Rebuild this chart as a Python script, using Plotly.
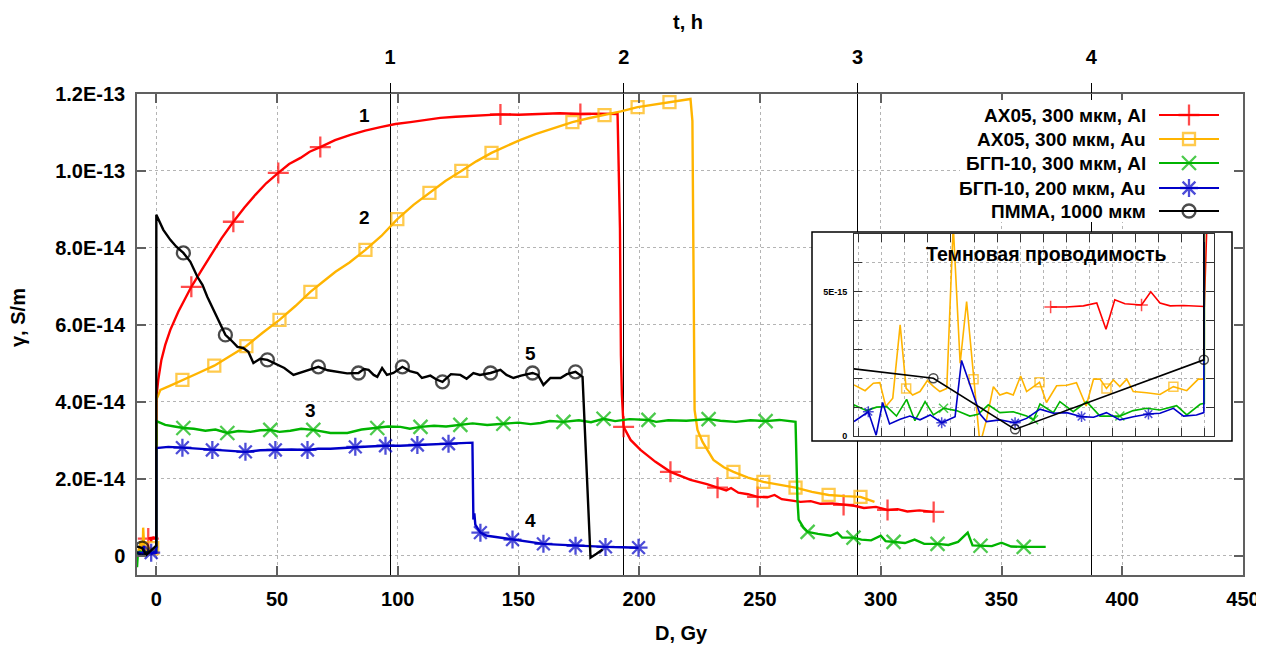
import numpy as np
import plotly.graph_objects as go

# ---------------- data ----------------
# D = absorbed dose, Gy (negative values: dark period before irradiation)
# conductivity: dark part in units of 1E-15 S/m, irradiation part in 1E-14 S/m

# 1: АХ05, 300 мкм, Al
red_dark_D = [-3.34, -3.0, -2.63, -2.34, -2.14, -1.95, -1.73, -1.37, -1.17, -0.97, -0.75, -0.46, -0.01]
red_dark_g15 = [4.47, 4.47, 4.51, 4.61, 3.70, 4.72, 4.58, 4.54, 5.00, 4.61, 4.51, 4.52, 4.49]
red_D = [0, 0.8, 2.1, 3.7, 5.8, 9.1, 14.5, 18.5, 22.4, 27.0, 31.9, 36.5, 41.0, 45.5, 50.5, 55.0,
         59.7, 63.5, 67.9, 74.0, 80.4, 86.5, 92.8, 99.0, 105.2, 111.0, 117.6, 124.0, 130.1, 136.0,
         142.5, 150.0, 159.1, 167.0, 175.6, 183.0, 191.0, 192.0, 192.4, 192.8, 193.5, 196.4, 200.5,
         206.7, 212.9, 221.2, 228.0, 232.4, 236.0, 238.0, 241.0, 245.0, 249.0, 253.0, 256.0, 259.0,
         263.0, 266.8, 271.0, 275.0, 280.0, 284.6, 289.0, 293.0, 298.0, 302.8, 307.0, 311.0, 316.0, 321.9]
red_g14 = [4.10, 4.57, 5.09, 5.48, 5.87, 6.34, 6.99, 7.40, 7.79, 8.25, 8.68, 9.05, 9.38, 9.68, 9.95, 10.18,
           10.34, 10.50, 10.62, 10.80, 10.94, 11.05, 11.14, 11.22, 11.27, 11.33, 11.38, 11.41, 11.43, 11.46,
           11.47, 11.46, 11.48, 11.50, 11.48, 11.49, 11.48, 8.50, 5.20, 4.18, 3.35, 3.01, 2.75,
           2.44, 2.18, 1.97, 1.86, 1.77, 1.70, 1.76, 1.64, 1.60, 1.53, 1.52, 1.58, 1.47,
           1.44, 1.40, 1.42, 1.35, 1.36, 1.32, 1.30, 1.24, 1.27, 1.19, 1.21, 1.15, 1.18, 1.14]

# 2: АХ05, 300 мкм, Au
orange_dark_D = [-7.6, -7.36, -7.18, -7.04, -6.91, -6.76, -6.60, -6.47, -6.33, -6.17, -6.01, -5.88, -5.74,
                 -5.59, -5.45, -5.30, -5.16, -5.01, -4.87, -4.73, -4.58, -4.44, -4.29, -4.15, -3.99, -3.86,
                 -3.71, -3.58, -3.43, -3.21, -2.99, -2.78, -2.57, -2.41, -2.27, -2.13, -1.98, -1.84, -1.69,
                 -1.55, -1.26, -0.97, -0.68, -0.39, -0.14, -0.01]
orange_dark_g15 = [1.77, 1.57, 1.83, 1.85, 1.02, 1.31, 3.85, 1.65, 1.42, 1.54, 1.92, 1.72, 1.54,
                   1.65, 7.30, 2.52, 4.66, 1.97, -0.30, 0.56, 1.71, 1.42, 1.50, 1.42, 2.08, 1.54,
                   1.71, 1.86, 1.16, 1.74, 1.76, 1.85, 1.04, 1.97, 1.97, 1.65, 1.94, 1.71, 1.97,
                   1.54, 1.50, 1.44, 1.71, 1.57, 1.97, 1.97]
orange_D = [0, 1.7, 5.8, 10.8, 17.4, 24.0, 30.7, 37.3, 43.9, 51.0, 57.6, 63.8, 69.0, 74.2, 80.0, 86.6,
            93.2, 99.8, 106.5, 113.1, 119.7, 126.3, 132.5, 138.8, 144.8, 150.8, 157.0, 163.2, 168.0,
            172.3, 179.0, 185.6, 192.4, 199.3, 206.0, 212.5, 217.0, 221.2, 222.0, 222.5, 222.9, 224.1,
            226.2, 230.7, 235.0, 239.0, 245.0, 251.4, 258.0, 264.7, 271.5, 278.4, 285.0, 291.6, 297.4]
orange_g14 = [4.05, 4.31, 4.42, 4.57, 4.75, 4.94, 5.19, 5.45, 5.79, 6.13, 6.49, 6.86, 7.12, 7.38, 7.62, 7.95,
              8.31, 8.75, 9.12, 9.43, 9.74, 10.00, 10.25, 10.47, 10.65, 10.81, 10.96, 11.09, 11.18,
              11.27, 11.37, 11.45, 11.55, 11.66, 11.72, 11.79, 11.83, 11.87, 11.30, 6.65, 3.79, 3.27,
              2.96, 2.49, 2.30, 2.18, 2.03, 1.92, 1.84, 1.77, 1.66, 1.58, 1.55, 1.53, 1.40]

# 3: БГП-10, 300 мкм, Al
green_dark_D = [-8.0, -7.6, -7.33, -7.11, -6.89, -6.68, -6.46, -6.28, -6.06, -5.88, -5.66, -5.38, -5.09,
                -4.91, -4.69, -4.44, -4.15, -3.86, -3.71, -3.57, -3.28, -3.14, -2.85, -2.56, -2.27,
                -1.84, -1.55, -1.26, -0.97, -0.61, -0.39, -0.10, -0.01]
green_dark_g15 = [-3.0, 1.08, 0.88, 1.00, 1.02, 0.69, 1.27, 0.53, 1.19, 0.73, 0.96, 0.88, 0.69,
                  0.75, 1.08, 0.81, 0.84, 0.69, 0.56, 1.11, 0.81, 1.19, 0.84, 1.19, 0.69,
                  0.69, 0.88, 0.96, 0.90, 1.05, 0.73, 1.10, 1.13]
green_D = [0, 3.7, 7.5, 11.2, 15.5, 20.3, 24.5, 29.4, 34.0, 38.9, 43.0, 47.2, 51.0, 55.5, 60.0, 65.0,
           72.1, 79.1, 85.0, 91.5, 96.0, 101.1, 105.0, 109.4, 115.0, 120.0, 125.9, 131.0, 137.0, 143.7,
           150.0, 155.0, 159.1, 163.0, 168.6, 175.0, 180.0, 185.2, 190.0, 196.0, 203.8, 207.0, 212.0,
           219.5, 228.7, 233.6, 240.0, 246.0, 252.3, 258.0, 264.7, 265.5, 266.0, 268.0, 269.7, 274.0,
           279.2, 282.0, 284.0, 288.7, 292.0, 296.0, 300.0, 302.0, 305.3, 310.0, 314.0, 318.0, 323.5,
           328.0, 332.0, 336.0, 338.0, 341.3, 346.0, 350.0, 354.0, 359.2, 364.0, 368.3]
green_g14 = [3.50, 3.40, 3.36, 3.32, 3.30, 3.25, 3.28, 3.19, 3.24, 3.22, 3.26, 3.27, 3.22, 3.25, 3.30, 3.27,
             3.19, 3.19, 3.28, 3.32, 3.36, 3.35, 3.30, 3.35, 3.38, 3.36, 3.40, 3.44, 3.40, 3.43,
             3.46, 3.42, 3.45, 3.50, 3.48, 3.52, 3.47, 3.56, 3.50, 3.55, 3.53, 3.48, 3.52,
             3.51, 3.55, 3.51, 3.48, 3.52, 3.50, 3.53, 3.48, 1.45, 0.94, 0.73, 0.62, 0.57,
             0.52, 0.60, 0.47, 0.47, 0.42, 0.40, 0.52, 0.38, 0.36, 0.33, 0.42, 0.31, 0.31,
             0.28, 0.36, 0.60, 0.27, 0.26, 0.25, 0.34, 0.24, 0.23, 0.22, 0.23]

# 4: БГП-10, 200 мкм, Au
blue_dark_D = [-7.6, -7.29, -7.12, -6.98, -6.83, -6.60, -6.39, -6.17, -5.95, -5.70, -5.41, -5.27, -5.05,
               -4.87, -4.73, -4.44, -4.11, -3.86, -3.57, -3.28, -2.99, -2.67, -2.41, -2.13, -1.84,
               -1.55, -1.22, -0.97, -0.68, -0.46, -0.18, -0.02]
blue_dark_g15 = [0.50, 0.84, 0.03, 1.16, 0.42, 0.58, 0.69, 0.56, 0.73, 0.46, 0.67, 2.62, 1.60,
                 0.76, 0.50, 0.56, 0.46, 0.61, 0.93, 0.79, 0.81, 0.67, 0.65, 0.81, 0.56,
                 0.67, 0.76, 0.79, 0.96, 0.69, 0.73, 0.81]
blue_D = [0, 5.0, 10.8, 17.0, 23.2, 30.0, 36.9, 43.0, 49.3, 56.0, 62.6, 67.0, 72.1, 77.0, 82.4, 88.0,
          94.9, 101.0, 108.1, 115.0, 121.0, 126.0, 130.9, 131.3, 131.7, 132.1, 134.2, 137.0, 140.4,
          147.5, 153.0, 160.3, 166.0, 173.6, 180.0, 186.0, 193.0, 199.7]
blue_g14 = [2.80, 2.83, 2.81, 2.78, 2.75, 2.73, 2.70, 2.74, 2.75, 2.76, 2.75, 2.78, 2.78, 2.80, 2.83, 2.84,
            2.86, 2.86, 2.88, 2.90, 2.91, 2.93, 2.94, 0.94, 1.10, 0.81, 0.60, 0.52, 0.49,
            0.42, 0.36, 0.31, 0.29, 0.26, 0.25, 0.23, 0.22, 0.21]

# 5: ПММА, 1000 мкм
black_dark_D = [-8.0, -5.88, -4.11, -0.02]
black_dark_g15 = [2.40, 2.00, 0.23, 2.64]
black_D = [0, 2.9, 5.8, 8.3, 11.2, 14.1, 17.0, 19.1, 21.1, 23.6, 25.7, 28.6, 31.0, 33.6, 36.0, 38.1,
           40.2, 43.0, 46.0, 50.1, 53.0, 56.8, 60.9, 64.0, 67.1, 71.0, 75.0, 79.0, 83.7, 86.0, 87.9,
           90.0, 91.5, 93.5, 95.5, 98.2, 101.9, 105.0, 108.1, 110.0, 113.5, 116.0, 118.5, 122.0,
           125.9, 128.5, 131.3, 134.0, 138.4, 142.5, 145.0, 147.9, 151.0, 155.8, 158.0, 160.3, 163.2,
           167.4, 170.0, 173.6, 176.5, 179.8, 182.3, 184.8]
black_g14 = [8.86, 8.47, 8.21, 8.03, 7.87, 7.64, 7.25, 7.04, 6.73, 6.39, 6.13, 5.74, 5.60, 5.43, 5.40, 5.30,
             5.01, 5.12, 5.09, 4.96, 4.88, 4.70, 4.78, 4.85, 4.91, 4.82, 4.78, 4.74, 4.75, 4.85, 4.83,
             4.70, 4.65, 4.88, 4.70, 4.75, 4.91, 4.80, 4.75, 4.62, 4.68, 4.58, 4.52, 4.72,
             4.70, 4.60, 4.75, 4.70, 4.75, 4.83, 4.70, 4.62, 4.68, 4.75, 4.70, 4.44, 4.62,
             4.62, 4.72, 4.78, 4.65, -0.05, 0.05, 0.16]

series_names = ["АХ05, 300 мкм, Al", "АХ05, 300 мкм, Au", "БГП-10, 300 мкм, Al",
                "БГП-10, 200 мкм, Au", "ПММА, 1000 мкм"]
curve_numbers = ["1", "2", "3", "4", "5"]
curve_number_D = [86.2, 86.2, 63.8, 154.9, 154.9]
curve_number_g14 = [11.45, 8.8, 3.77, 0.91, 5.25]

x_ticks = [0, 50, 100, 150, 200, 250, 300, 350, 400, 450]
y_tickvals = [0, 2e-14, 4e-14, 6e-14, 8e-14, 1.0e-13, 1.2e-13]
y_ticktext = ["0", "2.0E-14", "4.0E-14", "6.0E-14", "8.0E-14", "1.0E-13", "1.2E-13"]
t_ticks = [1, 2, 3, 4]
DOSE_PER_HOUR = 96.8
inset_y_tickvals = [0, 1e-15, 2e-15, 3e-15, 4e-15, 5e-15, 6e-15, 7e-15]
inset_y_ticktext = ["0", "", "", "", "", "5E-15", "", ""]

# ---------------- style ----------------
COLORS = ["#ff0000", "#ffb400", "#00b400", "#0000c8", "#000000"]
SYMBOLS = ["cross-thin-open", "square-open", "x-thin-open", "asterisk-open", "circle-open"]
MSIZE = [15, 12, 14, 15, 13]
MAIN_MARKS = [
    [-3.34, 14.5, 31.9, 50.5, 67.9, 142.5, 175.6, 193.5, 212.9, 232.4, 249.0, 284.6, 302.8, 321.9],
    [-1.69, 10.8, 24.0, 37.3, 51.0, 63.8, 86.6, 99.8, 113.1, 126.3, 138.8, 172.3, 185.6, 199.3, 212.5,
     226.2, 239.0, 251.4, 264.7, 278.4, 291.6],
    [11.2, 29.4, 47.2, 65.0, 91.5, 109.4, 125.9, 143.7, 168.6, 185.2, 203.8, 228.7, 252.3, 269.7,
     288.7, 305.3, 323.5, 341.3, 359.2],
    [-2.13, 10.8, 23.2, 36.9, 49.3, 62.6, 82.4, 94.9, 108.1, 121.0, 134.2, 147.5, 160.3, 173.6, 186.0, 199.7],
    [-5.88, 11.2, 28.6, 46.0, 67.1, 83.7, 101.9, 118.5, 138.4, 155.8, 173.6],
]
INSET_MARKS = [
    [-3.34, -1.37],
    [-6.47, -5.01, -3.58, -2.13, -0.68],
    [-5.66, -3.71, -1.84],
    [-7.29, -5.70, -4.11, -2.67, -1.22],
    [-5.88, -4.11, -0.02],
]
FONT = "Liberation Sans, Arial, sans-serif"
PAGE_OFF = 8                      # default body margin of the html page
W, H = 1264 - PAGE_OFF, 646 - PAGE_OFF
# plot area in page pixels
P_L, P_R, P_T, P_B = 137, 1243, 94, 575
ML, MT = P_L - PAGE_OFF, P_T - PAGE_OFF
MR, MB = W - (P_R - PAGE_OFF), H - (P_B - PAGE_OFF)


def px_x(px):
    return (px - P_L) / (P_R - P_L)


def px_y(py):
    return (P_B - py) / (P_B - P_T)


def combine(dD, dg, D, g):
    xs = np.array(dD + D, dtype=float)
    ys = np.concatenate([np.array(dg) * 1e-15, np.array(g) * 1e-14])
    return xs, ys


def size_array(xs, marks, s):
    arr = np.zeros(len(xs))
    for m in marks:
        arr[int(np.argmin(np.abs(xs - m)))] = s
    return arr


series = [
    combine(red_dark_D, red_dark_g15, red_D, red_g14),
    combine(orange_dark_D, orange_dark_g15, orange_D, orange_g14),
    combine(green_dark_D, green_dark_g15, green_D, green_g14),
    combine(blue_dark_D, blue_dark_g15, blue_D, blue_g14),
    combine(black_dark_D, black_dark_g15, black_D, black_g14),
]

fig = go.Figure()

# main curves
for i, (xs, ys) in enumerate(series):
    fig.add_trace(go.Scatter(
        x=xs, y=ys, mode="lines+markers", name=series_names[i], showlegend=False,
        line=dict(color=COLORS[i], width=2.4),
        marker=dict(symbol=SYMBOLS[i], size=size_array(xs, MAIN_MARKS[i], MSIZE[i]),
                    color=COLORS[i], line=dict(width=2.3, color=COLORS[i])),
        xaxis="x", yaxis="y", hoverinfo="skip"))

# dummy trace to activate the top (time) axis
fig.add_trace(go.Scatter(x=[None], y=[None], xaxis="x2", yaxis="y", showlegend=False, hoverinfo="skip"))

# white background for the inset frame
fig.add_trace(go.Scatter(x=[0, 1, 1, 0, 0], y=[0, 0, 1, 1, 0], fill="toself", fillcolor="white",
                         mode="lines", line=dict(width=0, color="white"), xaxis="x3", yaxis="y3",
                         showlegend=False, hoverinfo="skip"))

# inset curves (dark conductivity)
for i, (xs, ys) in enumerate(series):
    fig.add_trace(go.Scatter(
        x=xs, y=ys, mode="lines+markers", showlegend=False,
        line=dict(color=COLORS[i], width=1.6),
        marker=dict(symbol=SYMBOLS[i], size=size_array(xs, INSET_MARKS[i], 9),
                    color=COLORS[i], line=dict(width=1.5, color=COLORS[i])),
        xaxis="x4", yaxis="y4", hoverinfo="skip"))

# legend box (gnuplot style: text right-aligned, sample to the right)
LEG_X0, LEG_X1, LEG_Y0, LEG_Y1 = 960, 1232, 222, 100
leg_rows_px = [115, 139, 163, 188, 211]
fig.add_trace(go.Scatter(x=[0, 1, 1, 0, 0], y=[0, 0, 1, 1, 0], fill="toself", fillcolor="white",
                         mode="lines", line=dict(width=0, color="white"), xaxis="x5", yaxis="y5",
                         showlegend=False, hoverinfo="skip"))
lx0 = (1159 - LEG_X0) / (LEG_X1 - LEG_X0)
lx1 = (1219 - LEG_X0) / (LEG_X1 - LEG_X0)
lxm = (lx0 + lx1) / 2
ltext = (1148 - LEG_X0) / (LEG_X1 - LEG_X0)
annotations = []
for i, rp in enumerate(leg_rows_px):
    ry = (LEG_Y0 - rp) / (LEG_Y0 - LEG_Y1)
    fig.add_trace(go.Scatter(x=[lx0, lxm, lx1], y=[ry, ry, ry], mode="lines+markers",
                             line=dict(color=COLORS[i], width=2.2),
                             marker=dict(symbol=SYMBOLS[i], size=[0, MSIZE[i], 0], color=COLORS[i],
                                         line=dict(width=2.3, color=COLORS[i])),
                             xaxis="x5", yaxis="y5", showlegend=False, hoverinfo="skip"))
    annotations.append(dict(x=ltext, y=ry, xref="x5", yref="y5", text=series_names[i], showarrow=False,
                            xanchor="right", yanchor="middle",
                            font=dict(family=FONT, size=19, color="black", weight="bold")))

# curve numbers
for lab, dx, gy in zip(curve_numbers, curve_number_D, curve_number_g14):
    annotations.append(dict(x=dx, y=gy * 1e-14, xref="x", yref="y", text=lab, showarrow=False,
                            xanchor="center", yanchor="middle",
                            font=dict(family=FONT, size=19, color="black", weight="bold")))

# axis titles
title_font = dict(family=FONT, size=20, color="black", weight="bold")
annotations.append(dict(x=px_x(681), y=px_y(633), xref="paper", yref="paper", text="D, Gy",
                        showarrow=False, font=title_font, xanchor="center", yanchor="middle"))
annotations.append(dict(x=px_x(688), y=px_y(22), xref="paper", yref="paper", text="t, h",
                        showarrow=False, font=title_font, xanchor="center", yanchor="middle"))
annotations.append(dict(x=px_x(18), y=px_y(318), xref="paper", yref="paper", text="γ, S/m",
                        showarrow=False, font=title_font, textangle=-90, xanchor="center",
                        yanchor="middle"))
# inset title
annotations.append(dict(x=0.536, y=0.90, xref="x4 domain", yref="y4 domain", text="Темновая проводимость",
                        showarrow=False, xanchor="center", yanchor="middle",
                        font=dict(family=FONT, size=19.5, color="black", weight="bold")))

tick_font = dict(family=FONT, size=20, color="black", weight="bold")
AXC = "#606060"
x_min, x_max = -8, 450

fig.update_layout(
    template="none",
    width=W, height=H,
    margin=dict(l=ML, r=MR, t=MT, b=MB, autoexpand=False),
    paper_bgcolor="white", plot_bgcolor="white",
    showlegend=False,
    annotations=annotations,
    xaxis=dict(domain=[0, 1], range=[x_min, x_max], tickvals=x_ticks, ticks="inside", ticklen=9,
               tickwidth=1.5, tickcolor=AXC, showline=True, linecolor=AXC, linewidth=1.5,
               mirror="ticks", showgrid=True, gridcolor="#b4b4b4", griddash="dot", gridwidth=1,
               zeroline=False, tickfont=tick_font, ticklabelstandoff=5, anchor="y", automargin=False),
    xaxis2=dict(overlaying="x", side="top", anchor="y",
                range=[x_min / DOSE_PER_HOUR, x_max / DOSE_PER_HOUR], tickvals=t_ticks,
                ticks="outside", ticklen=10, tickwidth=1, tickcolor="black", showline=False,
                showgrid=True, gridcolor="black", gridwidth=1, zeroline=False, tickfont=tick_font,
                ticklabelstandoff=11, automargin=False),
    yaxis=dict(domain=[0, 1], range=[-5e-15, 1.2e-13], tickvals=y_tickvals, ticktext=y_ticktext,
               ticks="inside", ticklen=9, tickwidth=1.5, tickcolor=AXC, showline=True, linecolor=AXC,
               linewidth=1.5, mirror="ticks", showgrid=True, gridcolor="#b4b4b4", griddash="dot",
               gridwidth=1, zeroline=False, tickfont=tick_font, ticklabelstandoff=6, anchor="x",
               automargin=False),
    xaxis3=dict(domain=[px_x(812), px_x(1232)], range=[0, 1], visible=False, anchor="y3", fixedrange=True),
    yaxis3=dict(domain=[px_y(441), px_y(232)], range=[0, 1], visible=False, anchor="x3", fixedrange=True),
    xaxis4=dict(domain=[px_x(854), px_x(1214)], range=[-7.6, 0.2], anchor="y4", dtick=0.5, tick0=0,
                showticklabels=False, ticks="inside", ticklen=8, tickcolor="#333", showline=True,
                linecolor="#333", linewidth=1, mirror="ticks", showgrid=True, gridcolor="#b4b4b4",
                griddash="dot", zeroline=False, automargin=False),
    yaxis4=dict(domain=[px_y(436), px_y(234)], range=[0, 7e-15], anchor="x4", tickvals=inset_y_tickvals,
                ticktext=inset_y_ticktext, ticks="inside", ticklen=8, tickcolor="#333", showline=True,
                linecolor="#333", linewidth=1, mirror="ticks", showgrid=True, gridcolor="#b4b4b4",
                griddash="dot", zeroline=False,
                tickfont=dict(family=FONT, size=9, color="black", weight="bold"), ticklabelstandoff=4,
                automargin=False),
    xaxis5=dict(domain=[px_x(LEG_X0), px_x(LEG_X1)], range=[0, 1], visible=False, anchor="y5", fixedrange=True),
    yaxis5=dict(domain=[px_y(LEG_Y0), px_y(LEG_Y1)], range=[0, 1], visible=False, anchor="x5", fixedrange=True),
    shapes=[dict(type="rect", xref="paper", yref="paper", x0=px_x(812), x1=px_x(1232),
                 y0=px_y(441), y1=px_y(232), line=dict(color="black", width=1.5), layer="above")],
)

fig.write_html("out.html")
